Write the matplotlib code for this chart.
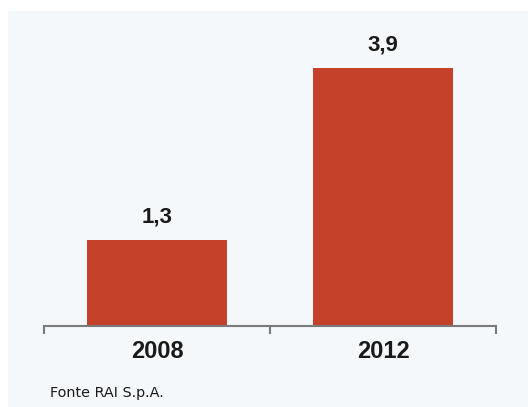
import matplotlib.pyplot as plt
from matplotlib.patches import Rectangle

years = ['2008', '2012']
values = [1.3, 3.9]
value_labels = ['1,3', '3,9']
source = 'Fonte RAI S.p.A.'

bar_color = '#c5412a'
bg_color = '#f5f8fa'
text_color = '#1a1a1a'

fig = plt.figure(figsize=(5.28, 4.07), dpi=100, facecolor='white')

# light panel behind the chart
fig.patches.append(Rectangle((8 / 528, 0), 1, (407 - 11) / 407,
                             transform=fig.transFigure, facecolor=bg_color,
                             edgecolor='none', zorder=-10))

ax = fig.add_axes([44 / 528, 81 / 407, 452 / 528, 298 / 407])
ax.set_facecolor('none')

x = range(len(years))
bars = ax.bar(x, values, width=0.62, color=bar_color, zorder=2)

for b, lbl in zip(bars, value_labels):
    ax.annotate(lbl, (b.get_x() + b.get_width() / 2, b.get_height()),
                xytext=(0, 9), textcoords='offset points',
                ha='center', va='bottom', fontsize=16, fontweight='bold',
                family='Liberation Sans', color=text_color)

ax.set_xlim(-0.5, 1.5)
ax.set_ylim(0, 4.5)

for side in ['top', 'right', 'left']:
    ax.spines[side].set_visible(False)
ax.spines['bottom'].set_color('#7a7a7a')
ax.spines['bottom'].set_linewidth(1.5)
ax.set_yticks([])

ax.set_xticks(list(x))
ax.set_xticklabels(years, fontsize=17, fontweight='bold',
                   family='Liberation Sans', color=text_color)
ax.tick_params(axis='x', which='major', length=0, pad=10)
ax.set_xticks([-0.5, 0.5, 1.5], minor=True)
ax.tick_params(axis='x', which='minor', length=6, width=1.5,
               color='#7a7a7a', direction='out')

fig.text(50 / 528, 10 / 407, source, fontsize=10.4, family='DejaVu Sans',
         color=text_color, va='baseline', ha='left')

fig.savefig('out.png', dpi=100, facecolor=fig.get_facecolor())
